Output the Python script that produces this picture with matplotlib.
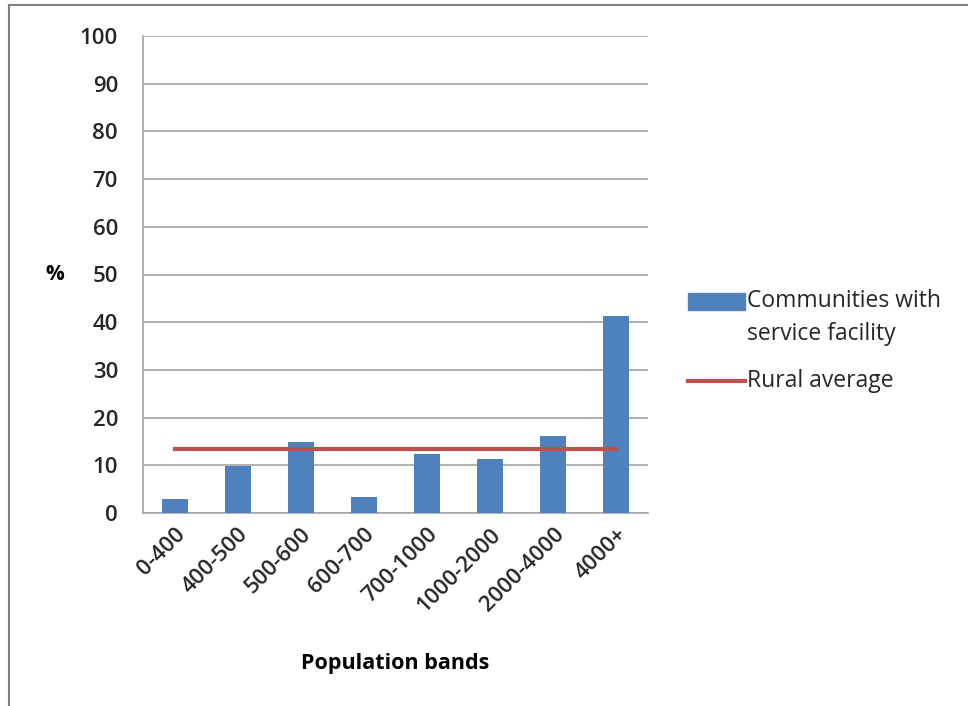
import numpy as np
import matplotlib.pyplot as plt
from matplotlib.lines import Line2D
from matplotlib.patches import Rectangle

bands = ["0-400", "400-500", "500-600", "600-700", "700-1000", "1000-2000", "2000-4000", "4000+"]
with_facility = [2.9, 9.9, 14.9, 3.4, 12.4, 11.3, 16.2, 41.2]
rural_average = 13.4
yticks = list(range(0, 101, 10))

BLUE = "#4f81bd"
RED = "#c0504d"
GRID = "#a6a6a6"
W, H = 968, 706


def fx(px):
    return px / W


def fy(py):
    return 1 - py / H


def main():
    plt.rcParams['font.family'] = ['Open Sans', 'DejaVu Sans']
    fig = plt.figure(figsize=(W / 100, H / 100), dpi=100)
    ax = fig.add_axes([fx(143), fy(513), fx(648) - fx(143), fy(36) - fy(513)])

    x = np.arange(len(bands))
    ax.bar(x, with_facility, width=0.41, color=BLUE, zorder=3)
    ax.plot([x[0], x[-1]], [rural_average, rural_average], color=RED, lw=3, zorder=4)

    ax.set_xlim(-0.5, len(bands) - 0.5)
    ax.set_ylim(0, 100)
    ax.set_yticks(yticks)
    ax.set_xticks(x)
    ax.set_xticklabels(bands, rotation=45, ha="right", rotation_mode="anchor")
    ax.tick_params(axis="both", length=0, labelsize=16, colors="#262626")
    ax.tick_params(axis="y", pad=18)
    ax.tick_params(axis="x", pad=8)
    for lab in ax.get_xticklabels() + ax.get_yticklabels():
        lab.set_fontweight("semibold")
    ax.grid(axis="y", color=GRID, lw=1.2, zorder=0)
    for s in ["top", "right"]:
        ax.spines[s].set_visible(False)
    for s in ["left", "bottom"]:
        ax.spines[s].set_color(GRID)
        ax.spines[s].set_linewidth(1.2)

    fig.text(fx(395), fy(663), "Population bands", fontsize=15.5, fontweight="bold",
             ha="center", va="center")
    fig.text(fx(55), fy(275), "%", fontsize=15, fontweight="bold", ha="center", va="center")

    # legend, drawn by hand so the box sits on the first text line
    fig.add_artist(Rectangle((fx(688), fy(310)), fx(745) - fx(688), fy(293) - fy(310),
                             color=BLUE, transform=fig.transFigure))
    fig.text(fx(747), fy(301), "Communities with", fontsize=16.5, va="center",
             color="#262626")
    fig.text(fx(747), fy(334), "service facility", fontsize=16.5, va="center",
             color="#262626")
    fig.add_artist(Line2D([fx(688), fx(745)], [fy(381), fy(381)], color=RED, lw=3))
    fig.text(fx(747), fy(381), "Rural average", fontsize=16.5, va="center",
             color="#262626")

    # outer chart frame (left and top edges)
    fig.add_artist(Line2D([0.009, 0.009], [0.0, 0.993], color="#808080", lw=1.5))
    fig.add_artist(Line2D([0.009, 1.0], [0.993, 0.993], color="#808080", lw=1.5))

    fig.savefig("out.png", dpi=100)


if __name__ == "__main__":
    main()
